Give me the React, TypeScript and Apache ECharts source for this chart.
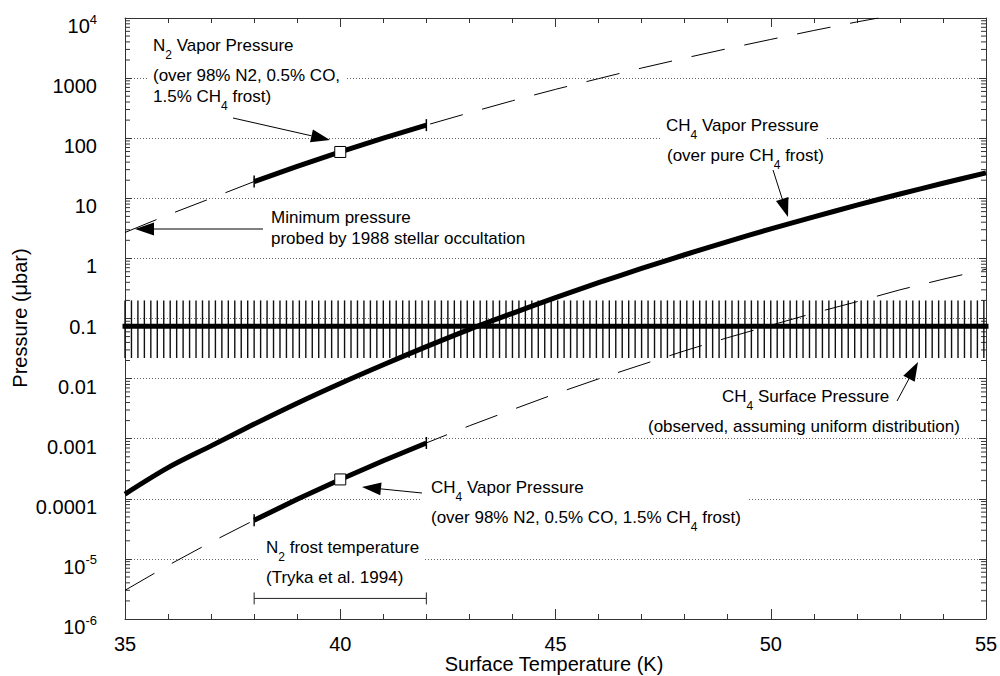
import React, { useEffect, useRef } from "react";
import * as echarts from "echarts";

// ---------- data ----------
const temps = [35, 36, 37, 38, 39, 40, 41, 42, 43, 44, 45, 46, 47, 48, 49, 50, 51, 52, 53, 54, 55];
// CH4 vapor pressure over pure CH4 frost (microbar)
const ch4PureFrost = [1.2e-4, 3.3e-4, 7.6e-4, 1.75e-3, 3.9e-3, 8.3e-3, 0.017, 0.034, 0.066, 0.122, 0.223, 0.394, 0.68, 1.15, 1.9, 3.1, 4.9, 7.7, 11.8, 17.8, 26.5];
// CH4 vapor pressure over 98% N2, 0.5% CO, 1.5% CH4 frost (microbar)
const ch4MixedFrost = [3.0e-6, 7.8e-6, 1.9e-5, 4.4e-5, 9.8e-5, 2.1e-4, 4.3e-4, 8.5e-4, 1.64e-3, 3.05e-3, 5.6e-3, 9.9e-3, 0.017, 0.029, 0.048, 0.077, 0.123, 0.19, 0.3, 0.45, 0.66];
// N2 vapor pressure over mixed frost (microbar)
const n2Temps = [35, 36, 37, 38, 39, 40, 41, 42, 43, 44, 45, 46, 47, 48, 49, 50, 51, 52, 52.5];
const n2Vapor = [2.7, 5.3, 10, 19, 34, 59, 100, 165, 265, 420, 650, 980, 1470, 2150, 3100, 4400, 6200, 8600, 10000];
// N2 frost temperature range (Tryka et al. 1994)
const frostTempRange = [38, 42];
const frostMarkTemp = 40;
const frostBarPressure = 2.2e-6;
// observed CH4 surface pressure and its range (microbar)
const surfacePressure = 0.074;
const surfacePressureLow = 0.022;
const surfacePressureHigh = 0.2;
const tempRange = [35, 55];

const xTicks = { min: 35, max: 55, interval: 5 };
// y axis: decades from 1e-6 to 1e4
const yDecadeMin = -6;
const yDecadeMax = 4;
const yTickLabels = ["10{sup|-6}", "10{sup|-5}", "0.0001", "0.001", "0.01", "0.1", "1", "10", "100", "1000", "10{sup|4}"];
const minorMantissas = [2, 3, 4, 5, 6, 7, 8, 9];
const xAxisTitle = "Surface Temperature (K)";
const yAxisTitle = "Pressure (\u03bcbar)";

// ---------- styles ----------
const FONT = "'Liberation Sans', Arial, Helvetica, sans-serif";
const HATCH_STEP = 0.15;
const W = 1000;
const H = 676;

const lg = (p: number) => Math.log10(p);
const pairs = (xs: number[], ys: number[]) => xs.map((x, i) => [x, lg(ys[i])]);
const inFrost = (p: number[]) => p[0] >= frostTempRange[0] && p[0] <= frostTempRange[1];
const valAt = (xs: number[], ys: number[], t: number) => ys[xs.indexOf(t)];

const richSub = {
  sub: { fontSize: 12, fontFamily: FONT, fill: "#000", color: "#000", padding: [20, 0, 0, 0] },
};

function txt(x: number, y: number, text: string) {
  return {
    type: "text",
    x,
    y,
    z: 10,
    style: {
      text,
      fontSize: 17,
      fontFamily: FONT,
      fill: "#000",
      align: "left",
      verticalAlign: "middle",
      rich: richSub,
    },
  };
}

function arrow(x1: number, y1: number, x2: number, y2: number, len = 19, w = 13) {
  const dx = x2 - x1;
  const dy = y2 - y1;
  const L = Math.hypot(dx, dy);
  const ux = dx / L;
  const uy = dy / L;
  const bx = x2 - ux * len;
  const by = y2 - uy * len;
  const px = -uy;
  const py = ux;
  return [
    { type: "line", z: 10, shape: { x1, y1, x2: bx, y2: by }, style: { stroke: "#000", lineWidth: 1 } },
    {
      type: "polygon",
      z: 10,
      shape: { points: [[x2, y2], [bx + (px * w) / 2, by + (py * w) / 2], [bx - (px * w) / 2, by - (py * w) / 2]] },
      style: { fill: "#000" },
    },
  ];
}

function whiteBox(x: number, y: number, width: number, height: number) {
  return { type: "rect", z: 1, shape: { x, y, width, height }, style: { fill: "#fff" } };
}

export default function App() {
  const ref = useRef<HTMLDivElement>(null);
  useEffect(() => {
    document.body.style.margin = "0";
    const chart = echarts.init(ref.current!, null, { renderer: "svg", width: W, height: H });

    const n2Data = pairs(n2Temps, n2Vapor);
    const ch4PureData = pairs(temps, ch4PureFrost);
    const ch4MixData = pairs(temps, ch4MixedFrost);

    const endMarks = [
      [frostTempRange[0], lg(valAt(n2Temps, n2Vapor, frostTempRange[0]))],
      [frostTempRange[1], lg(valAt(n2Temps, n2Vapor, frostTempRange[1]))],
      [frostTempRange[0], lg(valAt(temps, ch4MixedFrost, frostTempRange[0]))],
      [frostTempRange[1], lg(valAt(temps, ch4MixedFrost, frostTempRange[1]))],
    ];
    const squares = [
      [frostMarkTemp, lg(valAt(n2Temps, n2Vapor, frostMarkTemp))],
      [frostMarkTemp, lg(valAt(temps, ch4MixedFrost, frostMarkTemp))],
    ];

    // log-scale minor tick positions (2..9 x each decade)
    const minorTicks: number[][] = [];
    for (let e = yDecadeMin; e < yDecadeMax; e++) {
      for (const m of minorMantissas) minorTicks.push([tempRange[0], lg(m * Math.pow(10, e)), tempRange[1]]);
    }

    const axisLineStyle = { color: "#333", width: 1 };

    const option: any = {
      animation: false,
      backgroundColor: "#fff",
      grid: { left: 125, right: 14, top: 18, bottom: 57, containLabel: false, outerBoundsMode: "none" },
      xAxis: [
        {
          type: "value",
          min: xTicks.min,
          max: xTicks.max,
          interval: xTicks.interval,
          axisLine: { show: true, onZero: false, lineStyle: axisLineStyle },
          axisTick: { show: true, inside: true, length: 10, lineStyle: axisLineStyle },
          minorTick: { show: true, splitNumber: 5, length: 5, lineStyle: axisLineStyle },
          axisLabel: { fontSize: 20, fontFamily: FONT, color: "#000", margin: 15 },
          splitLine: { show: false },
        },
        {
          type: "value",
          position: "top",
          min: xTicks.min,
          max: xTicks.max,
          interval: xTicks.interval,
          axisLine: { show: true, onZero: false, lineStyle: axisLineStyle },
          axisTick: { show: true, inside: true, length: 9, lineStyle: axisLineStyle },
          minorTick: { show: true, splitNumber: 5, length: 5, lineStyle: axisLineStyle },
          axisLabel: { show: false },
          splitLine: { show: false },
        },
      ],
      yAxis: [
        {
          type: "value",
          min: yDecadeMin,
          max: yDecadeMax,
          interval: 1,
          axisLine: { show: true, onZero: false, lineStyle: axisLineStyle },
          axisTick: { show: true, inside: true, length: 7, lineStyle: axisLineStyle },
          axisLabel: {
            fontSize: 20,
            fontFamily: FONT,
            color: "#000",
            margin: 28,
            padding: [16, 0, 0, 0],
            formatter: (v: number) => yTickLabels[Math.round(v) - yDecadeMin],
            rich: {
              sup: { fontSize: 13, fontFamily: FONT, color: "#000", padding: [0, 0, 14, 0] },
            },
          },
          splitLine: { show: true, lineStyle: { color: "#666", width: 1, type: [1, 2] } },
        },
        {
          type: "value",
          position: "right",
          min: yDecadeMin,
          max: yDecadeMax,
          interval: 1,
          axisLine: { show: true, onZero: false, lineStyle: axisLineStyle },
          axisTick: { show: true, inside: true, length: 7, lineStyle: axisLineStyle },
          axisLabel: { show: false },
          splitLine: { show: false },
        },
      ],
      series: [
        {
          type: "custom",
          name: "minor ticks",
          z: 1,
          silent: true,
          data: minorTicks,
          encode: { x: [0, 2], y: 1 },
          renderItem: (params: any, api: any) => {
            const a = api.coord([api.value(0), api.value(1)]);
            const b = api.coord([api.value(2), api.value(1)]);
            const st = { stroke: "#333", lineWidth: 1 };
            return {
              type: "group",
              children: [
                { type: "line", shape: { x1: a[0], y1: a[1], x2: a[0] + 5, y2: a[1] }, style: st },
                { type: "line", shape: { x1: b[0] - 5, y1: b[1], x2: b[0], y2: b[1] }, style: st },
              ],
            };
          },
        },
        {
          type: "custom",
          name: "surface range",
          z: 2,
          data: [[tempRange[0], lg(surfacePressureLow), tempRange[1], lg(surfacePressureHigh)]],
          encode: { x: [0, 2], y: [1, 3] },
          renderItem: (params: any, api: any) => {
            const t0 = api.value(0);
            const lo = api.value(1);
            const t1 = api.value(2);
            const hi = api.value(3);
            const children: any[] = [];
            for (let t = t0; t <= t1 + 1e-9; t += HATCH_STEP) {
              const a = api.coord([t, hi]);
              const b = api.coord([t, lo]);
              children.push({
                type: "line",
                shape: { x1: a[0], y1: a[1], x2: b[0], y2: b[1] },
                style: { stroke: "#111", lineWidth: 1.4 },
              });
            }
            return { type: "group", children };
          },
        },
        {
          type: "line",
          name: "surface",
          z: 3,
          clip: false,
          showSymbol: false,
          data: [[tempRange[0], lg(surfacePressure)], [tempRange[1], lg(surfacePressure)]],
          lineStyle: { color: "#000", width: 5, cap: "square" },
        },
        {
          type: "line",
          name: "N2 vapor",
          z: 3,
          showSymbol: false,
          data: n2Data,
          lineStyle: { color: "#000", width: 1, type: [34, 20] },
        },
        {
          type: "line",
          name: "N2 vapor frost range",
          z: 4,
          showSymbol: false,
          data: n2Data.filter(inFrost),
          lineStyle: { color: "#000", width: 5 },
        },
        {
          type: "line",
          name: "CH4 pure",
          z: 4,
          showSymbol: false,
          smooth: 0.3,
          data: ch4PureData,
          lineStyle: { color: "#000", width: 5 },
        },
        {
          type: "line",
          name: "CH4 mixed",
          z: 3,
          showSymbol: false,
          data: ch4MixData,
          lineStyle: { color: "#000", width: 1, type: [34, 20] },
        },
        {
          type: "line",
          name: "CH4 mixed frost range",
          z: 4,
          showSymbol: false,
          data: ch4MixData.filter(inFrost),
          lineStyle: { color: "#000", width: 5 },
        },
        {
          type: "scatter",
          name: "ends",
          z: 5,
          symbol: "rect",
          symbolSize: [1.5, 12],
          itemStyle: { color: "#000", opacity: 1 },
          data: endMarks,
        },
        {
          type: "scatter",
          name: "squares",
          z: 6,
          symbol: "rect",
          symbolSize: 11,
          itemStyle: { color: "#fff", borderColor: "#000", borderWidth: 1, opacity: 1 },
          data: squares,
        },
        {
          type: "custom",
          name: "frost temperature",
          z: 5,
          data: [[frostTempRange[0], lg(frostBarPressure), frostTempRange[1]]],
          encode: { x: [0, 2], y: 1 },
          renderItem: (params: any, api: any) => {
            const a = api.coord([api.value(0), api.value(1)]);
            const b = api.coord([api.value(2), api.value(1)]);
            const st = { stroke: "#222", lineWidth: 1 };
            return {
              type: "group",
              children: [
                { type: "line", shape: { x1: a[0], y1: a[1], x2: b[0], y2: b[1] }, style: st },
                { type: "line", shape: { x1: a[0], y1: a[1] - 6, x2: a[0], y2: a[1] + 6 }, style: st },
                { type: "line", shape: { x1: b[0], y1: b[1] - 6, x2: b[0], y2: b[1] + 6 }, style: st },
              ],
            };
          },
        },
      ],
      graphic: [
        whiteBox(147, 64, 200, 24),
        whiteBox(660, 130, 166, 16),
        whiteBox(420, 491, 328, 18),
        whiteBox(260, 551, 164, 16),
        {
          type: "text",
          x: 554,
          y: 664,
          z: 10,
          style: { text: xAxisTitle, fontSize: 20, fontFamily: FONT, fill: "#000", align: "center", verticalAlign: "middle" },
        },
        {
          type: "text",
          x: 20,
          y: 318,
          rotation: Math.PI / 2,
          z: 10,
          style: { text: yAxisTitle, fontSize: 20, fontFamily: FONT, fill: "#000", align: "center", verticalAlign: "middle" },
        },
        txt(153, 45, "N{sub|2} Vapor Pressure"),
        txt(153, 75, "(over 98% N2, 0.5% CO,"),
        txt(153, 96, "1.5% CH{sub|4} frost)"),
        txt(271, 217, "Minimum pressure"),
        txt(271, 238, "probed by 1988 stellar occultation"),
        txt(666, 125, "CH{sub|4} Vapor Pressure"),
        txt(667, 155, "(over pure CH{sub|4} frost)"),
        txt(722, 396, "CH{sub|4} Surface Pressure"),
        txt(648, 426, "(observed, assuming uniform distribution)"),
        txt(431, 487, "CH{sub|4} Vapor Pressure"),
        txt(431, 517, "(over 98% N2, 0.5% CO, 1.5% CH{sub|4} frost)"),
        txt(266, 547, "N{sub|2} frost temperature"),
        txt(266, 577, "(Tryka et al. 1994)"),
        ...arrow(233, 118, 330, 140),
        ...arrow(263, 229, 135, 229),
        ...arrow(773, 170, 788, 217),
        ...arrow(897, 401, 918, 362),
        ...arrow(422, 493, 362, 487),
      ],
    };

    chart.setOption(option);
    return () => chart.dispose();
  }, []);

  return <div ref={ref} style={{ width: W, height: H, background: "#fff" }} />;
}
